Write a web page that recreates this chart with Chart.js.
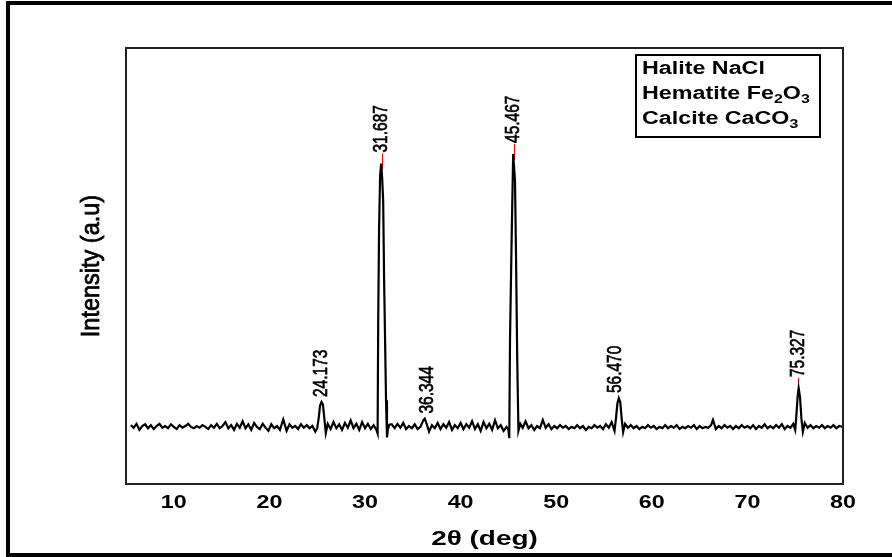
<!DOCTYPE html>
<html>
<head>
<meta charset="utf-8">
<script src="https://cdn.jsdelivr.net/npm/chart.js@4.4.1/dist/chart.umd.min.js"></script>
<style>
html,body{margin:0;padding:0;background:#fff;}
canvas{display:block;}
</style>
</head>
<body>
<canvas id="c" width="892" height="557"></canvas>
<script>
// ---- data ----
const twoTheta = [
5.5,5.8,6.1,6.4,6.7,7.0,7.3,7.6,7.9,8.2,8.5,8.8,9.1,9.4,9.7,10.0,10.3,10.6,10.9,11.2,11.5,11.8,12.1,12.4,12.7,13.0,13.3,13.6,13.9,14.2,14.5,14.8,15.1,15.4,15.7,16.0,16.3,16.6,16.9,17.2,17.5,17.8,18.1,18.4,18.7,19.0,19.3,19.6,19.9,20.2,20.5,20.8,21.1,21.45,21.8,22.1,22.4,22.7,23.0,23.3,23.6,23.9,24.2,24.5,24.8,25.0,25.15,25.3,25.45,25.6,25.75,25.9,26.1,26.4,26.7,27.0,27.3,27.6,27.9,28.2,28.5,28.8,29.1,29.4,29.7,30.0,30.3,30.6,30.9,31.2,
31.32,31.38,31.47,31.58,31.69,31.8,31.9,32.0,32.1,32.2,32.3,32.4,32.55,
32.8,33.1,33.4,33.7,34.0,34.3,34.6,34.9,35.2,35.5,35.8,36.1,36.25,36.45,36.7,37.0,37.3,37.6,37.9,38.2,38.5,38.8,39.1,39.4,39.7,40.0,40.3,40.6,40.9,41.2,41.5,41.8,42.1,42.4,42.7,43.0,43.3,43.6,43.9,44.2,44.5,44.8,45.0,
45.09,45.17,45.34,45.5,45.69,45.8,45.93,46.05,46.25,46.5,46.8,47.1,47.4,47.7,48.0,48.3,48.6,48.9,49.2,49.5,49.8,50.1,50.4,50.7,51.0,51.3,51.6,51.9,52.2,52.5,52.8,53.1,53.4,53.7,54.0,54.3,54.6,54.9,55.2,55.5,55.8,56.1,56.25,56.4,56.55,56.7,56.85,57.0,57.2,57.5,57.8,58.1,58.4,58.7,59.0,59.3,59.6,59.9,60.2,60.5,60.8,61.1,61.4,61.7,62.0,62.3,62.6,62.9,63.2,63.5,63.8,64.1,64.4,64.7,65.0,65.3,65.6,65.9,66.2,66.4,66.7,67.0,67.3,67.6,67.9,68.2,68.5,68.8,69.1,69.4,69.7,70.0,70.3,70.6,70.9,71.2,71.5,71.8,72.1,72.4,72.7,73.0,73.3,73.6,73.9,74.2,74.5,74.8,75.0,75.1,75.25,75.36,75.5,75.65,75.8,76.0,76.3,76.6,76.9,77.2,77.5,77.8,78.1,78.4,78.7,79.0,79.3,79.6,80.0
];
const intensity = [
135,129,138,124,133,137,128,135,126,133,138,129,133,128,137,131,126,135,129,133,138,131,128,133,129,135,131,126,135,129,138,128,133,142,128,135,124,138,129,144,128,137,124,140,131,126,138,129,122,137,128,133,124,148,122,137,129,133,126,137,129,135,128,133,120,128,150,180,188,182,150,117,138,126,142,128,137,124,140,129,146,128,138,124,142,128,138,126,135,124,
116,368,581,707,735,700,650,467,330,192,107,126,136,
137,128,138,129,140,126,133,128,137,126,131,146,150,138,120,135,128,140,126,137,129,142,124,135,128,140,126,137,129,144,126,137,122,142,128,138,124,146,128,135,122,131,124,
105,334,565,757,696,519,277,122,138,129,144,128,135,124,133,128,147,129,137,126,133,128,135,129,133,126,131,128,135,128,133,124,131,128,135,129,133,126,137,129,142,122,150,185,197,188,150,119,138,129,135,128,133,126,131,128,135,129,133,126,131,128,135,128,133,129,135,126,131,128,133,129,135,126,133,128,131,129,135,147,126,133,128,135,129,133,126,133,128,135,129,133,128,135,126,133,129,137,128,133,128,135,129,137,126,133,129,138,124,150,200,220,200,150,120,140,129,135,128,133,129,135,128,133,129,135,128,133,131
];
const xTicks = [10, 20, 30, 40, 50, 60, 70, 80];
const peakTheta = [25.45, 31.73, 36.55, 45.55, 56.15, 75.3];
const peakLabels = ['24.173', '31.687', '36.344', '45.467', '56.470', '75.327'];
const legendLines = [
  [['Halite NaCl', 0]],
  [['Hematite Fe', 0], ['2', 1], ['O', 0], ['3', 1]],
  [['Calcite CaCO', 0], ['3', 1]]
];
const xTitle = '2θ (deg)';
const yTitle = 'Intensity (a.u)';

// ---- drawing helpers ----
const SX = 1.33; // horizontal stretch of the reference's text
function apexFor(theta) {
  let best = -Infinity;
  twoTheta.forEach((t, i) => { if (Math.abs(t - theta) <= 0.5 && intensity[i] > best) best = intensity[i]; });
  return best;
}
const connectorOn = [false, true, false, true, false, true];

const decor = {
  id: 'decor',
  beforeDraw(chart) {
    const ctx = chart.ctx;
    ctx.save();
    ctx.fillStyle = '#fff';
    ctx.fillRect(0, 0, chart.width, chart.height);
    ctx.restore();
  },
  beforeDatasetsDraw(chart) {
    const ctx = chart.ctx, xs = chart.scales.x, ys = chart.scales.y;
    ctx.save();
    ctx.strokeStyle = '#ff0000';
    ctx.lineWidth = 1;
    peakTheta.forEach((t, i) => {
      if (!connectorOn[i]) return;
      const px = Math.round(xs.getPixelForValue(t)) + 0.5;
      const py = ys.getPixelForValue(apexFor(t));
      ctx.beginPath();
      ctx.moveTo(px, py + 6);
      ctx.lineTo(px, py - 10);
      ctx.stroke();
    });
    ctx.restore();
  },
  afterDraw(chart) {
    const ctx = chart.ctx, a = chart.chartArea, xs = chart.scales.x, ys = chart.scales.y;
    ctx.save();
    // outer frame
    ctx.fillStyle = '#000';
    ctx.fillRect(6, 1, 886, 4);
    ctx.fillRect(6, 1, 4, 556);
    ctx.fillRect(6, 553, 886, 4);
    // plot frame
    ctx.strokeStyle = '#222';
    ctx.lineWidth = 2;
    ctx.strokeRect(a.left, a.top, a.right - a.left, a.bottom - a.top);
    // tick labels
    ctx.fillStyle = '#000';
    ctx.strokeStyle = '#000';
    ctx.font = 'bold 17.5px "Liberation Sans", Arial, sans-serif';
    ctx.textBaseline = 'alphabetic';
    ctx.textAlign = 'center';
    xs.ticks.forEach(tk => {
      const px = xs.getPixelForValue(tk.value);
      ctx.save(); ctx.translate(px, 508); ctx.scale(SX, 1);
      ctx.fillText(String(tk.value), 0, 0);
      ctx.restore();
    });
    // x title
    ctx.font = 'bold 21px "Liberation Sans", Arial, sans-serif';
    ctx.save(); ctx.translate((a.left + a.right) / 2, 545); ctx.scale(SX, 1);
    ctx.fillText(xTitle, 0, 0);
    ctx.restore();
    // y title
    ctx.font = '23.5px "Liberation Sans", Arial, sans-serif';
    ctx.save(); ctx.translate(92, (a.top + a.bottom) / 2); ctx.scale(1.12, 1); ctx.rotate(-Math.PI / 2);
    ctx.textBaseline = 'middle';
    ctx.lineWidth = 0.7;
    ctx.fillText(yTitle, 0, 0);
    ctx.strokeText(yTitle, 0, 0);
    ctx.restore();
    // legend box
    ctx.strokeStyle = '#000';
    ctx.lineWidth = 2;
    ctx.strokeRect(636, 55, 184, 82);
    const baselines = [74, 98.5, 123.5];
    ctx.textAlign = 'left';
    legendLines.forEach((parts, li) => {
      ctx.save(); ctx.translate(642, baselines[li]); ctx.scale(SX, 1);
      let x = 0;
      parts.forEach(([txt, sub]) => {
        ctx.font = sub ? 'bold 12px "Liberation Sans", Arial, sans-serif' : 'bold 17.5px "Liberation Sans", Arial, sans-serif';
        ctx.fillText(txt, x, sub ? 4 : 0);
        x += ctx.measureText(txt).width;
      });
      ctx.restore();
    });
    // peak labels
    ctx.font = '15.5px "Liberation Sans", Arial, sans-serif';
    ctx.textAlign = 'left';
    ctx.textBaseline = 'middle';
    ctx.lineWidth = 0.5;
    peakTheta.forEach((t, i) => {
      const px = xs.getPixelForValue(t);
      const py = ys.getPixelForValue(apexFor(t));
      ctx.save(); ctx.translate(px, py - (connectorOn[i] ? 11 : 5)); ctx.scale(SX, 1); ctx.rotate(-Math.PI / 2);
      ctx.fillText(peakLabels[i], 0, 0);
      ctx.strokeText(peakLabels[i], 0, 0);
      ctx.restore();
    });
    ctx.restore();
  }
};

new Chart(document.getElementById('c'), {
  type: 'line',
  data: {
    datasets: [{
      data: twoTheta.map((t, i) => ({ x: t, y: intensity[i] })),
      borderColor: '#000',
      borderWidth: 2.2,
      pointRadius: 0,
      tension: 0,
      fill: false
    }]
  },
  options: {
    responsive: false,
    animation: false,
    devicePixelRatio: 1,
    layout: { padding: { top: 48, right: 49, left: 0, bottom: 0 } },
    plugins: { legend: { display: false }, tooltip: { enabled: false } },
    scales: {
      x: {
        type: 'linear', min: 5, max: 80,
        afterBuildTicks: s => { s.ticks = xTicks.map(v => ({ value: v })); },
        ticks: { display: false },
        grid: { display: false, drawTicks: false },
        border: { display: false },
        afterFit: s => { s.height = 73; }
      },
      y: {
        min: 0, max: 1000,
        ticks: { display: false },
        grid: { display: false, drawTicks: false },
        border: { display: false },
        afterFit: s => { s.width = 126; }
      }
    }
  },
  plugins: [decor]
});
</script>
</body>
</html>
